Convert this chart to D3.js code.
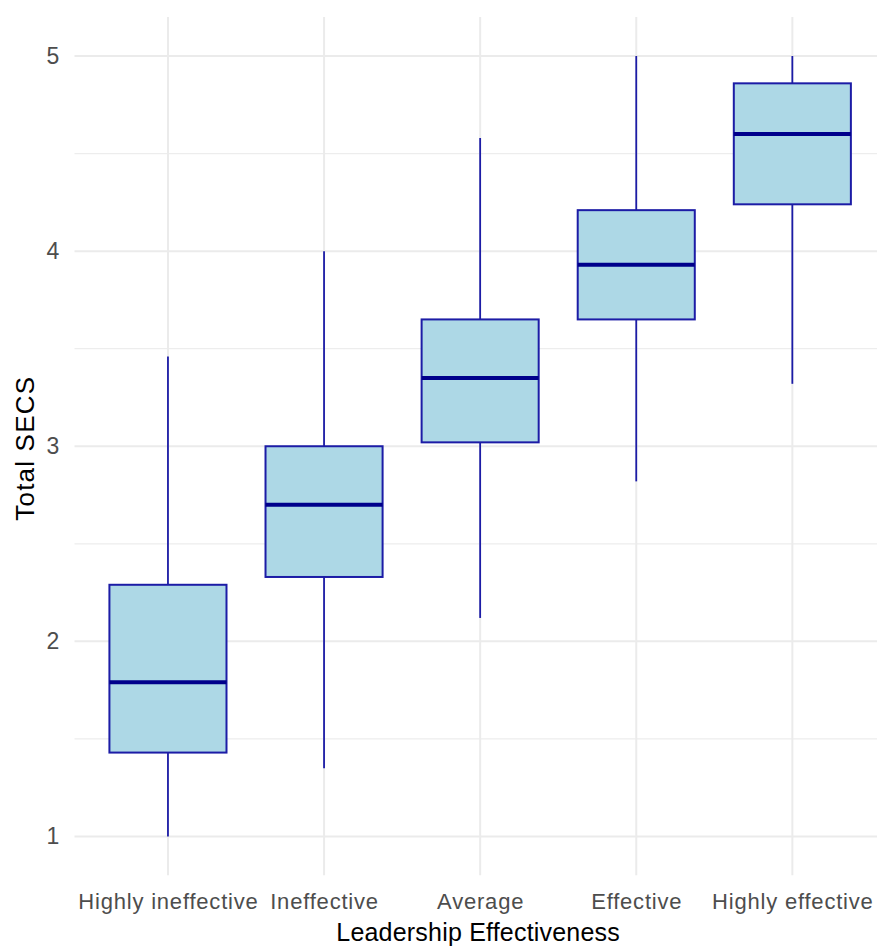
<!DOCTYPE html>
<html>
<head>
<meta charset="utf-8">
<script src="https://cdn.jsdelivr.net/npm/d3@7"></script>
<style>
  html, body { margin: 0; padding: 0; background: #ffffff; }
  svg { display: block; font-family: "Liberation Sans", Arial, sans-serif; }
</style>
</head>
<body>
<svg id="chart" width="877" height="947"></svg>
<script>
// Five-number summaries of Total SECS by leadership effectiveness group
const categories   = ["Highly ineffective", "Ineffective", "Average", "Effective", "Highly effective"];
const lowerWhisker = [1.00, 1.35, 2.12, 2.82, 3.32];
const q1           = [1.43, 2.33, 3.02, 3.65, 4.24];
const median       = [1.79, 2.70, 3.35, 3.93, 4.60];
const q3           = [2.29, 3.00, 3.65, 4.21, 4.86];
const upperWhisker = [3.46, 4.00, 4.58, 5.00, 5.00];

const yTicks      = [1, 2, 3, 4, 5];
const yMinorTicks = [1.5, 2.5, 3.5, 4.5];
const xTitle = "Leadership Effectiveness";
const yTitle = "Total SECS";

const boxes = categories.map((c, i) => ({
  cat: c, lo: lowerWhisker[i], q1: q1[i], med: median[i], q3: q3[i], hi: upperWhisker[i]
}));

const svg = d3.select("#chart");
const W = 877, H = 947;
const panel = { left: 74.3, right: 886, top: 17, bottom: 875.5 };

const x = d3.scalePoint().domain(categories).range([panel.left, panel.right]).padding(0.6);
const y = d3.scaleLinear().domain([0.8, 5.2]).range([panel.bottom, panel.top]);
const boxW = x.step() * 0.75;

svg.append("defs").append("clipPath").attr("id", "panelClip")
  .append("rect").attr("x", panel.left).attr("y", panel.top)
  .attr("width", W - panel.left).attr("height", panel.bottom - panel.top);

const grid = svg.append("g").attr("clip-path", "url(#panelClip)");

// minor horizontal grid
grid.selectAll("line.minor").data(yMinorTicks).join("line")
  .attr("class", "minor")
  .attr("x1", panel.left).attr("x2", panel.right)
  .attr("y1", d => y(d)).attr("y2", d => y(d))
  .attr("stroke", "#ededed").attr("stroke-width", 1.2);

// major horizontal grid
grid.selectAll("line.majorY").data(yTicks).join("line")
  .attr("class", "majorY")
  .attr("x1", panel.left).attr("x2", panel.right)
  .attr("y1", d => y(d)).attr("y2", d => y(d))
  .attr("stroke", "#ebebeb").attr("stroke-width", 2);

// major vertical grid
grid.selectAll("line.majorX").data(categories).join("line")
  .attr("class", "majorX")
  .attr("x1", d => x(d)).attr("x2", d => x(d))
  .attr("y1", panel.top).attr("y2", panel.bottom)
  .attr("stroke", "#ebebeb").attr("stroke-width", 2);

// boxplots
const g = svg.append("g").selectAll("g.box").data(boxes).join("g").attr("class", "box");

g.append("line")
  .attr("x1", d => x(d.cat)).attr("x2", d => x(d.cat))
  .attr("y1", d => y(d.hi)).attr("y2", d => y(d.q3))
  .attr("stroke", "#1c1ca6").attr("stroke-width", 1.8);

g.append("line")
  .attr("x1", d => x(d.cat)).attr("x2", d => x(d.cat))
  .attr("y1", d => y(d.q1)).attr("y2", d => y(d.lo))
  .attr("stroke", "#1c1ca6").attr("stroke-width", 1.8);

g.append("rect")
  .attr("x", d => x(d.cat) - boxW / 2)
  .attr("width", boxW)
  .attr("y", d => y(d.q3))
  .attr("height", d => y(d.q1) - y(d.q3))
  .attr("fill", "#add8e6")
  .attr("stroke", "#1c1ca6").attr("stroke-width", 2);

g.append("line")
  .attr("x1", d => x(d.cat) - boxW / 2).attr("x2", d => x(d.cat) + boxW / 2)
  .attr("y1", d => y(d.med)).attr("y2", d => y(d.med))
  .attr("stroke", "#00008b").attr("stroke-width", 4);

// y axis labels
const yAxis = svg.append("g").attr("transform", `translate(${panel.left},0)`)
  .call(d3.axisLeft(y).tickValues(yTicks).tickFormat(d3.format("d")).tickSize(0).tickPadding(15));
yAxis.select(".domain").remove();
yAxis.selectAll("text")
  .attr("fill", "#4d4d4d").attr("font-size", "23px")
  .attr("font-family", "'Liberation Sans', Arial, sans-serif");

// x axis labels
const xAxis = svg.append("g").attr("transform", `translate(0,${panel.bottom})`)
  .call(d3.axisBottom(x).tickSize(0).tickPadding(18));
xAxis.select(".domain").remove();
xAxis.selectAll("text")
  .attr("fill", "#4d4d4d").attr("font-size", "22px")
  .attr("letter-spacing", "0.8px")
  .attr("font-family", "'Liberation Sans', Arial, sans-serif");

// axis titles
svg.append("text")
  .attr("x", (panel.left + panel.right) / 2 - 2)
  .attr("y", 941)
  .attr("text-anchor", "middle")
  .attr("font-size", "25px").attr("letter-spacing", "0.2px").attr("fill", "#000")
  .text(xTitle);

svg.append("text")
  .attr("transform", `translate(34,${(panel.top + panel.bottom) / 2 + 2}) rotate(-90)`)
  .attr("text-anchor", "middle")
  .attr("font-size", "26px").attr("letter-spacing", "1.2px").attr("fill", "#000")
  .text(yTitle);
</script>
</body>
</html>
